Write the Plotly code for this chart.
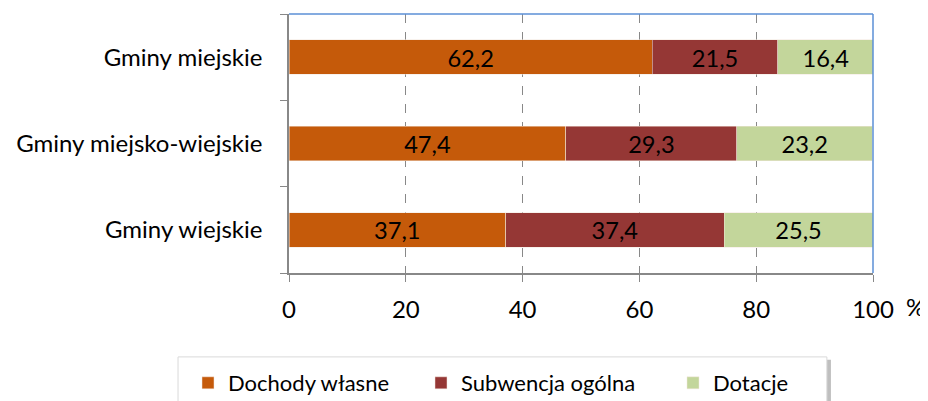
import plotly.graph_objects as go

categories = ["Gminy wiejskie", "Gminy miejsko-wiejskie", "Gminy miejskie"]
dochody_wlasne = [37.1, 47.4, 62.2]
subwencja_ogolna = [37.4, 29.3, 21.5]
dotacje = [25.5, 23.2, 16.4]
x_ticks = [0, 20, 40, 60, 80, 100]

series = [
    ("Dochody własne", dochody_wlasne, "#C55A0A"),
    ("Subwencja ogólna", subwencja_ogolna, "#953735"),
    ("Dotacje", dotacje, "#C3D69B"),
]

# page body has an 8px margin, so the figure is drawn 8px smaller
W, H = 920, 393
legend_left = [180, 413, 665]  # left edge of each legend entry, figure px
legend_mid_y = 375

font = dict(family="Lato, Noto Sans, sans-serif", size=24, color="black")
legend_font = dict(family="Lato, Noto Sans, sans-serif", size=22, color="black")

fig = go.Figure()
for i, (name, vals, color) in enumerate(series):
    fig.add_trace(go.Bar(
        name=name,
        y=categories,
        x=vals,
        orientation="h",
        marker=dict(color=color, line=dict(color="#f2e6dc", width=0.5)),
        text=[f"{v:.1f}".replace(".", ",") for v in vals],
        textposition="inside",
        insidetextanchor="middle",
        textfont=font,
        width=0.4,
        showlegend=True,
        legend="legend" if i == 0 else f"legend{i + 1}",
    ))

layout_legends = {}
for i, lx in enumerate(legend_left):
    key = "legend" if i == 0 else f"legend{i + 1}"
    layout_legends[key] = dict(
        orientation="h",
        xref="container", yref="container",
        x=lx / W, xanchor="left",
        y=1 - legend_mid_y / H, yanchor="middle",
        font=legend_font,
        bgcolor="rgba(0,0,0,0)",
        itemwidth=30,
    )

fig.update_layout(
    barmode="stack",
    width=W,
    height=H,
    margin=dict(l=281, r=55, t=6, b=128),
    paper_bgcolor="white",
    plot_bgcolor="white",
    font=font,
    showlegend=True,
    **layout_legends,
)

fig.update_xaxes(
    range=[0, 100],
    tickvals=x_ticks,
    ticks="outside",
    ticklen=7,
    tickcolor="#888888",
    showline=True,
    linecolor="#888888",
    linewidth=1.5,
    showgrid=True,
    gridcolor="#888888",
    griddash="dash",
    gridwidth=1,
    zeroline=False,
    tickfont=font,
    ticklabelstandoff=7,
    automargin=False,
)
fig.update_yaxes(
    categoryorder="array",
    categoryarray=categories,
    tickson="boundaries",
    ticks="outside",
    ticklen=7,
    tickcolor="#888888",
    showline=True,
    linecolor="#888888",
    linewidth=1.5,
    showgrid=False,
    tickfont=font,
    ticklabelstandoff=20,
    automargin=False,
)

# top and right plot border (blue)
fig.add_shape(type="line", xref="paper", yref="paper", x0=0, x1=1, y0=1, y1=1,
              line=dict(color="#5B8FD6", width=1.5))
fig.add_shape(type="line", xref="paper", yref="paper", x0=1, x1=1, y0=0, y1=1,
              line=dict(color="#5B8FD6", width=1.5))

# legend frame with shadow
fig.add_shape(type="rect", xref="paper", yref="paper", x0=-0.185, x1=0.928, y0=-0.335, y1=-0.52,
              line=dict(width=0), fillcolor="rgba(0,0,0,0.25)", layer="below")
fig.add_shape(type="rect", xref="paper", yref="paper", x0=-0.19, x1=0.921, y0=-0.324, y1=-0.52,
              line=dict(color="#d9d9d9", width=1), fillcolor="white", layer="below")

fig.add_annotation(text="%", xref="paper", yref="paper", x=1.072, y=-0.13,
                   showarrow=False, font=font, xanchor="center", yanchor="middle")

fig.write_html("out.html")
